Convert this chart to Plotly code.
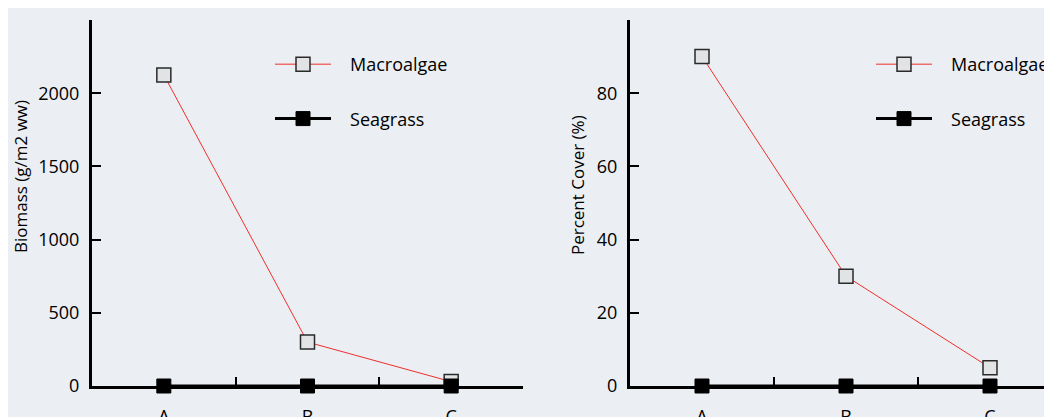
import plotly.graph_objects as go

sites = ['A', 'B', 'C']
biomass_macroalgae = [2125, 300, 30]
biomass_seagrass = [0, 0, 0]
cover_macroalgae = [90, 30, 5]
cover_seagrass = [0, 0, 0]

BG = '#ebeef2'
FONT = 'Open Sans, sans-serif'
PAD = '\u00a0\u00a0\u00a0'  # extra gap between legend symbol and text

fig = go.Figure()


def add_pair(fig, macro, sea, xa, ya, legend):
    fig.add_trace(go.Scatter(
        x=sites, y=macro, xaxis=xa, yaxis=ya, name=PAD + 'Macroalgae', legend=legend,
        mode='lines+markers', cliponaxis=False, legendgroup=legend + 'm',
        line=dict(color='#f0302a', width=1),
        marker=dict(symbol='square', size=14, color='#e2e3e5', line=dict(color='#2a2a2a', width=1.5)),
    ))
    fig.add_trace(go.Scatter(
        x=sites, y=sea, xaxis=xa, yaxis=ya, name=PAD + 'Seagrass', legend=legend,
        mode='lines+markers', cliponaxis=False, legendgroup=legend + 's',
        line=dict(color='#000000', width=3),
        marker=dict(symbol='square', size=14, color='#000000', line=dict(color='#000000', width=1)),
    ))


add_pair(fig, biomass_macroalgae, biomass_seagrass, 'x', 'y', 'legend')
add_pair(fig, cover_macroalgae, cover_seagrass, 'x2', 'y2', 'legend2')

W = 1052
OFF = 8  # the page body margin shifts the figure by 8px
xaxis_common = dict(
    type='category', tickson='boundaries', ticks='inside', ticklen=9, tickwidth=2,
    tickcolor='#000', showline=True, linecolor='#000', linewidth=3, showgrid=False,
    zeroline=False, ticklabelstandoff=12, tickfont=dict(size=18, color='#000'),
)
yaxis_common = dict(
    ticks='inside', ticklen=9, tickwidth=2, tickcolor='#000', showline=True,
    linecolor='#000', linewidth=3, showgrid=False, zeroline=False,
    tickfont=dict(size=18, color='#000'), ticklabelstandoff=6,
)

legend_common = dict(
    bgcolor='rgba(0,0,0,0)', font=dict(size=18, color='#000', family=FONT),
    traceorder='grouped', tracegroupgap=28, itemwidth=56,
    yanchor='top', xanchor='left', borderwidth=0,
)

fig.update_layout(
    width=W, height=417,
    margin=dict(l=0, r=0, t=20 - OFF, b=31 + OFF, autoexpand=False),
    paper_bgcolor=BG, plot_bgcolor=BG,
    font=dict(family=FONT, color='#000'),
    showlegend=True,
    xaxis=dict(domain=[(92 - OFF) / W, (523 - OFF) / W], range=[-0.5, 2.5], anchor='y', **xaxis_common),
    yaxis=dict(domain=[0, 1], range=[0, 2500], tickvals=[0, 500, 1000, 1500, 2000, 2500], anchor='x',
               **yaxis_common),
    xaxis2=dict(domain=[(630 - OFF) / W, 1.0], range=[-0.5, -0.5 + (W - 630 + OFF) / 144], anchor='y2',
                **xaxis_common),
    yaxis2=dict(domain=[0, 1], range=[0, 100], tickvals=[0, 20, 40, 60, 80, 100], anchor='x2',
                **yaxis_common),
    legend=dict(x=262 / W, y=0.929, xref='paper', yref='paper', **legend_common),
    legend2=dict(x=863 / W, y=0.929, xref='paper', yref='paper', **legend_common),
)

# axis titles sit a little above the plot centre, as in the reference
fig.add_annotation(text='Biomass (g/m2 ww)', textangle=-90, showarrow=False,
                   xref='paper', yref='paper', x=12 / W, y=0.571,
                   xanchor='center', yanchor='middle', font=dict(size=17, color='#000'))
fig.add_annotation(text='Percent Cover (%)', textangle=-90, showarrow=False,
                   xref='paper', yref='paper', x=569 / W, y=0.549,
                   xanchor='center', yanchor='middle', font=dict(size=17, color='#000'))

fig.write_html('out.html')
